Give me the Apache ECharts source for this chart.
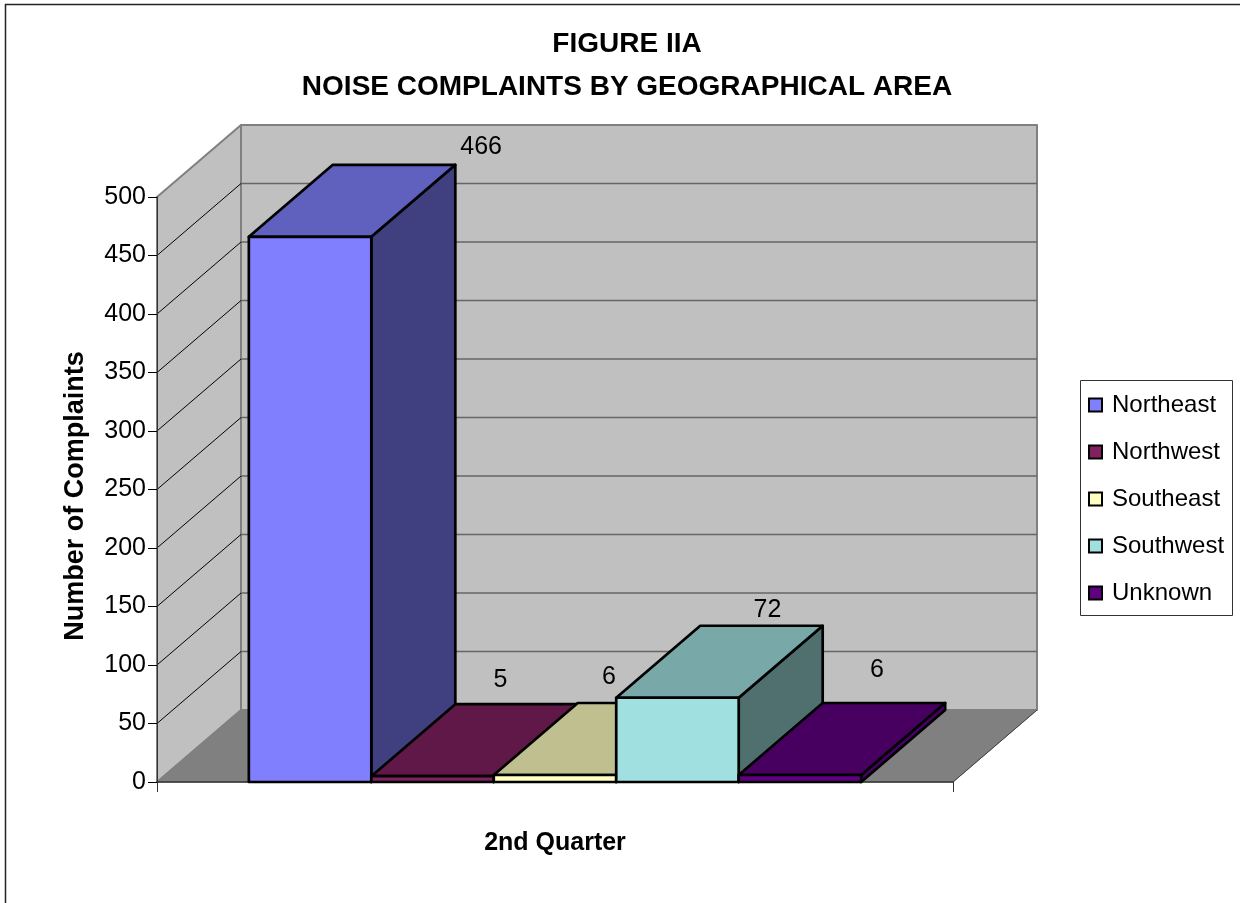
<!DOCTYPE html>
<html>
<head>
<meta charset="utf-8">
<style>html,body{margin:0;padding:0;background:#fff}#c{width:1240px;height:903px}</style>
<script src="https://cdn.jsdelivr.net/npm/echarts@6/dist/echarts.min.js"></script>
</head>
<body>
<div id="c"></div>
<script>
var categories = ['2nd Quarter'];
var seriesNames = ['Northeast', 'Northwest', 'Southeast', 'Southwest', 'Unknown'];
var seriesValues = [466, 5, 6, 72, 6];
var tickValues = [0, 50, 100, 150, 200, 250, 300, 350, 400, 450, 500];

var frontColors = ['#8080FF', '#802060', '#FFFFC0', '#A0E0E0', '#600080'];
var topColors = ['#6060BF', '#601848', '#BFBF90', '#78A8A8', '#480060'];
var sideColors = ['#404080', '#401030', '#808060', '#507070', '#480068'];
var labelNudge = [[87, -18], [-16, -24], [-30, -26], [6, -16], [-7, -33]];

var DX = 84, DY = -72;
var FONT = '"Liberation Sans", Arial, sans-serif';

function poly(pts, fill, stroke, lw, z2) {
  return {type: 'polygon', z2: z2 || 0, shape: {points: pts},
    style: {fill: fill, stroke: stroke, lineWidth: lw, lineJoin: 'round'}};
}
function line(a, b, stroke, lw) {
  return {type: 'line', shape: {x1: a[0], y1: a[1], x2: b[0], y2: b[1]},
    style: {stroke: stroke, lineWidth: lw}};
}

function renderWalls(params, api) {
  var cs = params.coordSys, L = cs.x, R = cs.x + cs.width;
  var y0 = api.coord([0, 0])[1], yMax = api.coord([0, 500])[1];
  var kids = [
    poly([[L + DX, yMax + DY], [R + DX, yMax + DY], [R + DX, y0 + DY], [L + DX, y0 + DY]], '#C0C0C0', '#808080', 2),
    poly([[L, yMax], [L + DX, yMax + DY], [L + DX, y0 + DY], [L, y0]], '#C0C0C0', '#808080', 2),
    poly([[L, y0], [L + DX, y0 + DY], [R + DX, y0 + DY], [R, y0]], '#808080', '#808080', 1)
  ];
  tickValues.forEach(function (v) {
    var y = api.coord([0, v])[1];
    if (v > 0 && v < 500) {
      kids.push(line([L + DX, y + DY], [R + DX, y + DY], '#666666', 1.5));
      kids.push(line([L, y], [L + DX, y + DY], '#000000', 1));
    }
  });
  kids.push(line([R, y0], [R + DX, y0 + DY], '#404040', 1));
  return {type: 'group', children: kids};
}

function makeBar(i) {
  return function (params, api) {
    var band = api.size([1, 0])[0];
    var unit = band / (seriesNames.length + 1.5);
    var cs = params.coordSys;
    var x0 = cs.x + unit * (0.75 + i), x1 = x0 + unit;
    var yB = api.coord([0, 0])[1], yT = api.coord([0, api.value(1)])[1];
    var s = '#000000', w = 2.7;
    return {type: 'group', children: [
      poly([[x1, yT], [x1 + DX, yT + DY], [x1 + DX, yB + DY], [x1, yB]], sideColors[i], s, w),
      poly([[x0, yT], [x1, yT], [x1 + DX, yT + DY], [x0 + DX, yT + DY]], topColors[i], s, w),
      poly([[x0, yT], [x1, yT], [x1, yB], [x0, yB]], frontColors[i], s, w),
      {type: 'text', z2: 10, style: {
        x: (x0 + x1) / 2 + DX + labelNudge[i][0], y: yT + DY + labelNudge[i][1],
        text: String(api.value(1)), align: 'center', verticalAlign: 'middle',
        fill: '#000', font: '25px ' + FONT}}
    ]};
  };
}

var series = [{
  type: 'custom', name: 'walls', z: 1, silent: true, clip: false,
  data: [[0, 0]], encode: {x: 0, y: 1}, renderItem: renderWalls
}];
seriesNames.forEach(function (n, i) {
  series.push({
    type: 'custom', name: n, z: 4 + i, clip: false,
    itemStyle: {color: frontColors[i], borderColor: '#000', borderWidth: 2},
    data: [[0, seriesValues[i]]], encode: {x: 0, y: 1}, renderItem: makeBar(i)
  });
});

var chart = echarts.init(document.getElementById('c'), null, {renderer: 'canvas'});
chart.setOption({
  animation: false,
  backgroundColor: '#fff',
  title: {
    text: 'FIGURE IIA\nNOISE COMPLAINTS BY GEOGRAPHICAL AREA',
    left: 622, top: 18, textAlign: 'center',
    textStyle: {fontFamily: FONT, fontWeight: 'bold', fontSize: 28, lineHeight: 43, color: '#000'}
  },
  grid: {left: 157, top: 197, width: 796, height: 585, containLabel: false},
  xAxis: {
    type: 'category', data: categories, z: 3,
    name: categories[0], nameLocation: 'middle', nameGap: 49,
    nameTextStyle: {fontFamily: FONT, fontWeight: 'bold', fontSize: 25, color: '#000'},
    axisLabel: {show: false},
    axisTick: {show: true, length: 10, lineStyle: {color: '#333', width: 1}},
    axisLine: {show: true, lineStyle: {color: '#333', width: 1.5}},
    splitLine: {show: false}
  },
  yAxis: {
    type: 'value', min: 0, max: 500, interval: 50, z: 3,
    name: 'Number of Complaints', nameLocation: 'middle', nameGap: 68,
    nameTextStyle: {fontFamily: FONT, fontWeight: 'bold', fontSize: 27, color: '#000', padding: [0, 13, 0, 0]},
    axisLabel: {fontFamily: FONT, fontSize: 25, color: '#000', margin: 11},
    axisTick: {show: true, length: 9, lineStyle: {color: '#000', width: 1}},
    axisLine: {show: true, lineStyle: {color: '#333', width: 1}},
    splitLine: {show: false}
  },
  legend: {
    show: true, orient: 'vertical', left: 1088, top: 393,
    data: seriesNames, icon: 'rect', itemWidth: 13, itemHeight: 13, itemGap: 23,
    padding: 0, selectedMode: false,
    itemStyle: {borderColor: '#000', borderWidth: 2},
    textStyle: {fontFamily: FONT, fontSize: 24, color: '#000', padding: [0, 0, 0, 5]}
  },
  graphic: [
    {type: 'rect', silent: true, z: -1, shape: {x: 5.5, y: 4.5, width: 1400, height: 1400},
      style: {fill: 'none', stroke: '#222', lineWidth: 1.5}},
    {type: 'rect', silent: true, z: -1, shape: {x: 1080.5, y: 380.5, width: 152, height: 235},
      style: {fill: '#fff', stroke: '#333', lineWidth: 1}}
  ],
  series: series
});
</script>
</body>
</html>
